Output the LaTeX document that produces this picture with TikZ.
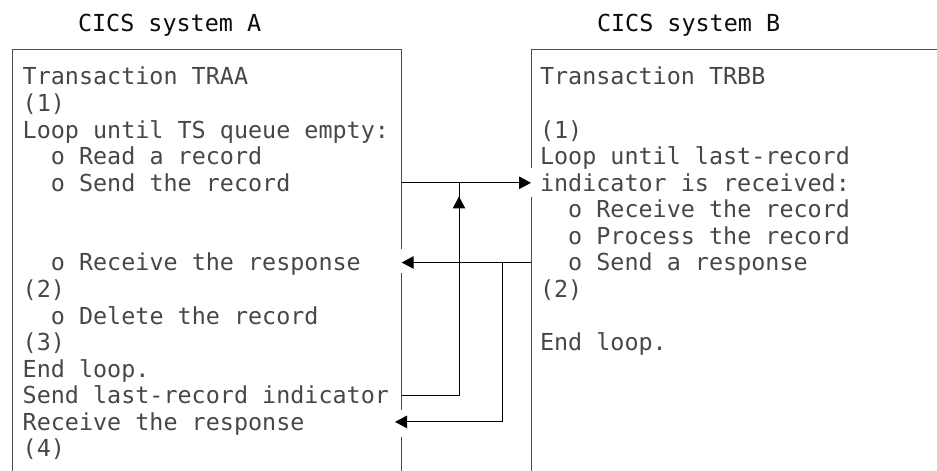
\documentclass[tikz,border=0pt]{standalone}
\usepackage{fontspec}
\setmonofont{DejaVu Sans Mono}
\usetikzlibrary{arrows.meta}
\tikzset{
  txt/.style={anchor=base west, inner sep=0pt, outer sep=0pt, font=\ttfamily\fontsize{23.4bp}{26.57bp}\selectfont, text=black!72},
  ttl/.style={txt, text=black!95},
  edge/.style={draw=black!70, line width=1bp},
  conn/.style={draw=black, line width=1bp},
  arr/.style={conn, -{Triangle[length=12bp,width=12.5bp]}}
}
\begin{document}
\begin{tikzpicture}[x=1bp,y=-1bp]
\useasboundingbox (0,0) rectangle (937,471);
% titles
\node[ttl] (tA) at (78,31.5) {CICS system A};
\node[ttl] (tB) at (597,31.5) {CICS system B};
% box A edges
\coordinate (A1) at (12.7,471);
\coordinate (A2) at (12.7,50);
\coordinate (A3) at (401.7,50);
\coordinate (A4) at (401.7,249);
\coordinate (A5) at (401.7,273);
\coordinate (A6) at (401.7,410);
\coordinate (A7) at (401.7,437);
\coordinate (A8) at (401.7,471);
\draw[edge] (A1) -- (A2) -- (A3) -- (A4);
\draw[edge] (A5) -- (A6);
\draw[edge] (A7) -- (A8);
% box B edges
\coordinate (B1) at (531,471);
\coordinate (B2) at (531,197);
\coordinate (B3) at (531,168);
\coordinate (B4) at (531,50);
\coordinate (B5) at (937,50);
\draw[edge] (B1) -- (B2);
\draw[edge] (B3) -- (B4) -- (B5);
% text A
\node[txt] (a0) at (22.7,85) {Transaction TRAA};
\node[txt] (a1) at (22.7,111.57) {(1)};
\node[txt] (a2) at (22.7,138.14) {Loop until TS queue empty:};
\node[txt] (a3) at (50.9,164.71) {o Read a record};
\node[txt] (a4) at (50.9,191.28) {o Send the record};
\node[txt] (a7) at (50.9,270.99) {o Receive the response};
\node[txt] (a8) at (22.7,297.56) {(2)};
\node[txt] (a9) at (50.9,324.13) {o Delete the record};
\node[txt] (a10) at (22.7,350.7) {(3)};
\node[txt] (a11) at (22.7,377.27) {End loop.};
\node[txt] (a12) at (22.7,403.84) {Send last-record indicator};
\node[txt] (a13) at (22.7,430.41) {Receive the response};
\node[txt] (a14) at (22.7,456.98) {(4)};
% text B
\node[txt] (b0) at (540,85) {Transaction TRBB};
\node[txt] (b2) at (540,138.14) {(1)};
\node[txt] (b3) at (540,164.71) {Loop until last-record};
\node[txt] (b4) at (540,191.28) {indicator is received:};
\node[txt] (b5) at (568.2,217.85) {o Receive the record};
\node[txt] (b6) at (568.2,244.42) {o Process the record};
\node[txt] (b7) at (568.2,270.99) {o Send a response};
\node[txt] (b8) at (540,297.56) {(2)};
\node[txt] (b10) at (540,350.7) {End loop.};
% connector points
\coordinate (s1) at (401.7,182.8);
\coordinate (r1) at (531,182.8);
\coordinate (s2) at (531,262.5);
\coordinate (r2) at (401.7,262.5);
\coordinate (j2) at (502.3,262.5);
\coordinate (k2) at (502.3,421.9);
\coordinate (r3) at (395,421.9);
\coordinate (s3) at (401.7,395.3);
\coordinate (k3) at (459,395.3);
\coordinate (j3) at (459,182.8);
\coordinate (m3a) at (459,215);
\coordinate (m3b) at (459,196.5);
% connectors
\draw[arr] (s1) -- (r1);
\draw[arr] (s2) -- (r2);
\draw[arr] (j2) -- (k2) -- (r3);
\draw[conn] (s3) -- (k3) -- (j3);
\draw[arr] (m3a) -- (m3b);
\end{tikzpicture}
\end{document}
